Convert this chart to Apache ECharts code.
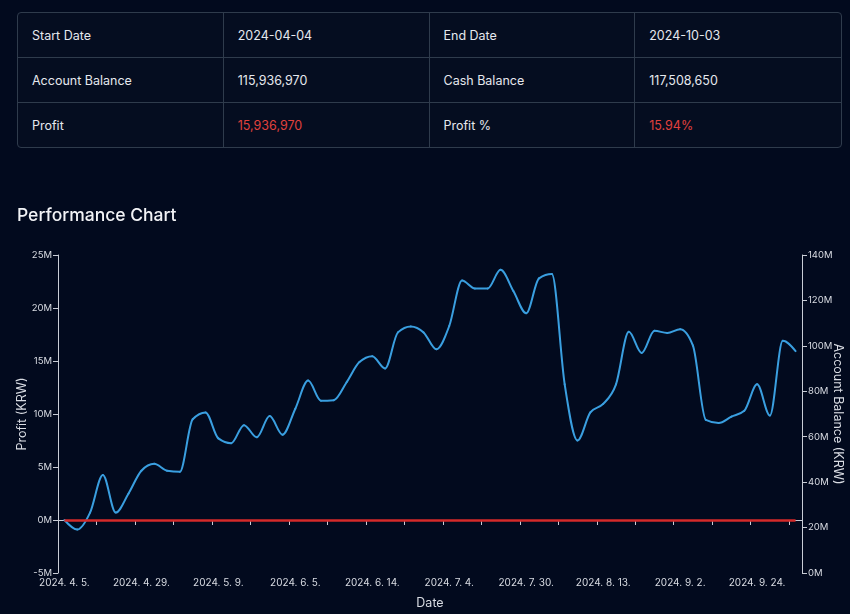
<!DOCTYPE html>
<html>
<head>
<meta charset="utf-8">
<script src="https://cdn.jsdelivr.net/npm/echarts@6/dist/echarts.min.js"></script>
<style>
  html, body { margin: 0; padding: 0; background: #020a1e; width: 850px; height: 614px; overflow: hidden; font-family: Inter, "Noto Sans", sans-serif; }
  table { position: absolute; left: 17px; top: 12px; width: 825px; height: 134px; border-collapse: separate; border-spacing: 0; border: 1px solid #2f3b4c; border-radius: 4px; background: #050d20; table-layout: fixed; }
  td { color: #e6e8ee; font-size: 12.5px; padding: 0 0 0 14px; height: 44px; border-right: 1px solid #2f3b4c; border-bottom: 1px solid #2f3b4c; }
  tr td:last-child { border-right: none; }
  tr:last-child td { border-bottom: none; }
  td.red { color: #e0413d; }
  #chart { position: absolute; left: 0; top: 160px; width: 850px; height: 454px; }
</style>
</head>
<body>
<table>
  <tr><td>Start Date</td><td>2024-04-04</td><td>End Date</td><td>2024-10-03</td></tr>
  <tr><td>Account Balance</td><td>115,936,970</td><td>Cash Balance</td><td>117,508,650</td></tr>
  <tr><td>Profit</td><td class="red">15,936,970</td><td>Profit %</td><td class="red">15.94%</td></tr>
</table>
<div id="chart"></div>
<script>
const dates = [
  '2024-04-05','2024-04-08','2024-04-11','2024-04-16','2024-04-19','2024-04-24',
  '2024-04-29','2024-04-30','2024-05-02','2024-05-03','2024-05-07','2024-05-08',
  '2024-05-09','2024-05-13','2024-05-17','2024-05-22','2024-05-27','2024-05-31',
  '2024-06-05','2024-06-07','2024-06-10','2024-06-11','2024-06-12','2024-06-13',
  '2024-06-14','2024-06-18','2024-06-20','2024-06-25','2024-06-27','2024-07-01',
  '2024-07-04','2024-07-08','2024-07-12','2024-07-17','2024-07-22','2024-07-25',
  '2024-07-30','2024-07-31','2024-08-02','2024-08-06','2024-08-08','2024-08-12',
  '2024-08-13','2024-08-16','2024-08-20','2024-08-23','2024-08-27','2024-08-29',
  '2024-09-02','2024-09-05','2024-09-09','2024-09-12','2024-09-19','2024-09-23',
  '2024-09-24','2024-09-26','2024-09-30','2024-10-02'
];
// Profit in KRW
const profit = [
  0, -900000, 700000, 4250000, 700000, 2500000,
  4650000, 5300000, 4650000, 4550000, 9500000, 10150000,
  7700000, 7250000, 8950000, 7800000, 9800000, 8050000,
  10500000, 13150000, 11250000, 11300000, 13000000, 14900000,
  15450000, 14300000, 17700000, 18250000, 17700000, 16100000,
  18300000, 22600000, 21850000, 21850000, 23600000, 21600000,
  19500000, 22800000, 23200000, 12800000, 7500000, 10150000,
  10950000, 12800000, 17750000, 15750000, 17850000, 17650000,
  18000000, 16450000, 9450000, 9150000, 9750000, 10300000,
  12800000, 9850000, 16900000, 15936970
];
const zeroLine = 0;
const profitTicks = { min: -5000000, max: 25000000, interval: 5000000 };
const balanceTicks = { min: 0, max: 140000000, interval: 20000000 };

const axisColor = '#c9cdd6';
const textColor = '#d9dce3';
const fontFam = 'Inter, "Noto Sans", sans-serif';
const fmtM = v => (v / 1000000) + 'M';
const fmtDate = s => { const p = s.split('-'); return p[0] + '. ' + (+p[1]) + '. ' + (+p[2]) + '.'; };

// monotone-x cubic tangents computed on pixel points supplied by the axes
function monotoneTangents(pts) {
  const n = pts.length, t = new Array(n).fill(0);
  const sgn = v => (v < 0 ? -1 : 1);
  for (let i = 1; i < n - 1; i++) {
    const h0 = pts[i][0] - pts[i - 1][0], h1 = pts[i + 1][0] - pts[i][0];
    const s0 = (pts[i][1] - pts[i - 1][1]) / h0, s1 = (pts[i + 1][1] - pts[i][1]) / h1;
    const p = (s0 * h1 + s1 * h0) / (h0 + h1);
    t[i] = (sgn(s0) + sgn(s1)) * Math.min(Math.abs(s0), Math.abs(s1), 0.5 * Math.abs(p)) || 0;
  }
  if (n > 1) {
    const h = pts[1][0] - pts[0][0];
    t[0] = h ? (3 * (pts[1][1] - pts[0][1]) / h - t[1]) / 2 : t[1];
    const hl = pts[n - 1][0] - pts[n - 2][0];
    t[n - 1] = hl ? (3 * (pts[n - 1][1] - pts[n - 2][1]) / hl - t[n - 2]) / 2 : t[n - 2];
  }
  return t;
}

const chart = echarts.init(document.getElementById('chart'), null, { renderer: 'canvas' });
chart.setOption({
  backgroundColor: 'transparent',
  animation: false,
  title: {
    text: 'Performance Chart', left: 12, top: 42,
    textStyle: { color: '#f2f3f6', fontSize: 17.5, fontWeight: 500, fontFamily: fontFam }
  },
  grid: { left: 58, right: 48, top: 95, bottom: 41, outerBoundsMode: 'none', containLabel: false },
  xAxis: {
    type: 'category', data: dates, boundaryGap: true,
    name: 'Date', nameLocation: 'middle', nameGap: 24,
    nameTextStyle: { color: textColor, fontSize: 12.5, fontFamily: fontFam },
    axisLine: { lineStyle: { color: axisColor, width: 1 } },
    axisTick: { show: true, interval: 2, length: 5, lineStyle: { color: axisColor } },
    axisLabel: { interval: 5, color: textColor, fontSize: 10, margin: 5, fontFamily: fontFam, formatter: fmtDate },
    splitLine: { show: false }
  },
  yAxis: [
    {
      type: 'value', position: 'left', min: profitTicks.min, max: profitTicks.max, interval: profitTicks.interval,
      name: 'Profit (KRW)', nameLocation: 'middle', nameGap: 29, nameRotate: 90, nameMoveOverlap: false,
      nameTextStyle: { color: textColor, fontSize: 12.5, fontFamily: fontFam },
      axisLine: { show: true, lineStyle: { color: axisColor, width: 1 } },
      axisTick: { show: true, length: 5, lineStyle: { color: axisColor } },
      axisLabel: { color: textColor, fontSize: 9.5, margin: 6, fontFamily: fontFam, formatter: fmtM },
      splitLine: { show: false }
    },
    {
      type: 'value', position: 'right', min: balanceTicks.min, max: balanceTicks.max, interval: balanceTicks.interval,
      name: 'Account Balance (KRW)', nameLocation: 'middle', nameGap: 29, nameRotate: -90, nameMoveOverlap: false,
      nameTextStyle: { color: textColor, fontSize: 12.5, fontFamily: fontFam },
      axisLine: { show: true, lineStyle: { color: axisColor, width: 1 } },
      axisTick: { show: true, length: 5, lineStyle: { color: axisColor } },
      axisLabel: { color: textColor, fontSize: 9.5, margin: 6, fontFamily: fontFam, formatter: fmtM },
      splitLine: { show: false }
    }
  ],
  series: [
    {
      type: 'custom', name: 'Profit', coordinateSystem: 'cartesian2d', xAxisIndex: 0, yAxisIndex: 0,
      data: profit.map((v, i) => [i, v]),
      encode: { x: 0, y: 1 },
      clip: false,
      renderItem: function (params, api) {
        const i = params.dataIndex;
        if (i >= profit.length - 1) return null;
        const pts = profit.map((v, k) => api.coord([k, v]));
        const t = monotoneTangents(pts);
        const p0 = pts[i], p1 = pts[i + 1];
        const dx = (p1[0] - p0[0]) / 3;
        return {
          type: 'bezierCurve',
          shape: {
            x1: p0[0], y1: p0[1], x2: p1[0], y2: p1[1],
            cpx1: p0[0] + dx, cpy1: p0[1] + dx * t[i],
            cpx2: p1[0] - dx, cpy2: p1[1] - dx * t[i + 1]
          },
          style: { stroke: '#3a9fe0', lineWidth: 2, fill: null, lineCap: 'round' },
          z2: 5
        };
      },
      markLine: {
        silent: true, symbol: ['none', 'none'], label: { show: false },
        lineStyle: { color: '#d42a2a', width: 2.5, type: 'solid' },
        data: [[ { coord: [0, zeroLine] }, { coord: [dates.length - 1, zeroLine] } ]]
      },
      z: 3
    }
  ]
});
</script>
</body>
</html>
